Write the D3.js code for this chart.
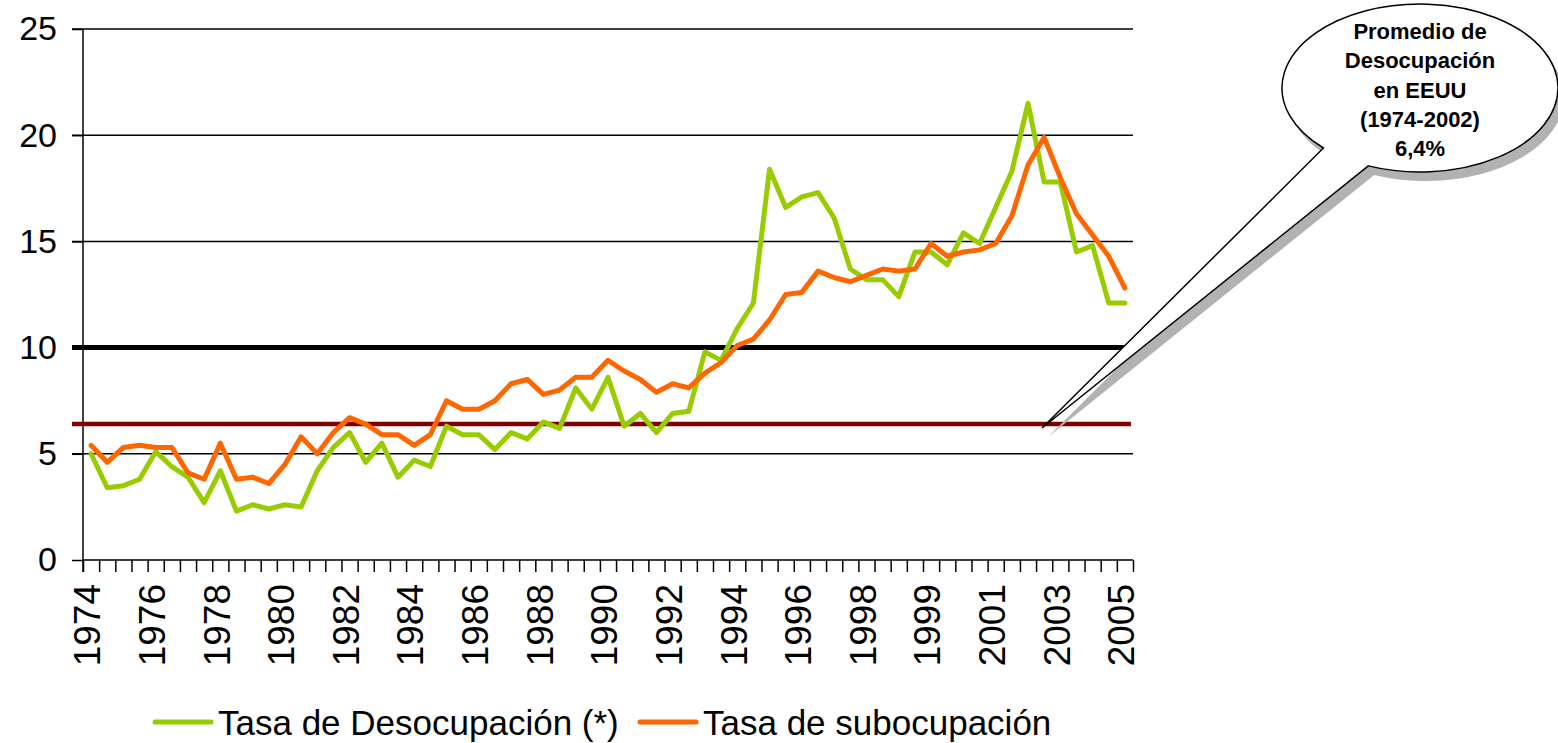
<!DOCTYPE html>
<html lang="es">

<head>
    <meta charset="UTF-8">
    <title>Desocupación y subocupación</title>
    <script src="https://unpkg.com/d3@7.8.5/dist/d3.min.js"></script>
    <style>
        * {
            margin: 0;
            padding: 0;
            box-sizing: border-box;
        }

        body {
            background: #fff;
            overflow: hidden;
        }

        svg {
            display: block;
            font-family: "Liberation Sans", Arial, sans-serif;
        }
    </style>
</head>

<body>
    <svg class="cc" width="1558" height="743"></svg>
    <script>
        // etiquetas del eje x (una cada 4 puntos)
        const tickYears = ['1974', '1976', '1978', '1980', '1982', '1984', '1986', '1988', '1990',
            '1992', '1994', '1996', '1998', '1999', '2001', '2003', '2005']

        // Tasa de Desocupación (*)
        const desocupacion = [
            5.0, 3.4, 3.5, 3.8, 5.1, 4.4, 3.9, 2.7, 4.2, 2.3, 2.6, 2.4, 2.6, 2.5, 4.2, 5.3,
            6.0, 4.6, 5.5, 3.9, 4.7, 4.4, 6.3, 5.9, 5.9, 5.2, 6.0, 5.7, 6.5, 6.2, 8.1, 7.1,
            8.6, 6.3, 6.9, 6.0, 6.9, 7.0, 9.8, 9.4, 10.9, 12.1, 18.4, 16.6, 17.1, 17.3, 16.1, 13.7,
            13.2, 13.2, 12.4, 14.5, 14.5, 13.9, 15.4, 14.9, 16.6, 18.3, 21.5, 17.8, 17.8, 14.5, 14.8, 12.1,
            12.1
        ]

        // Tasa de subocupación
        const subocupacion = [
            5.4, 4.6, 5.3, 5.4, 5.3, 5.3, 4.1, 3.8, 5.5, 3.8, 3.9, 3.6, 4.5, 5.8, 5.0, 6.0,
            6.7, 6.4, 5.9, 5.9, 5.4, 5.9, 7.5, 7.1, 7.1, 7.5, 8.3, 8.5, 7.8, 8.0, 8.6, 8.6,
            9.4, 8.9, 8.5, 7.9, 8.3, 8.1, 8.8, 9.3, 10.1, 10.4, 11.3, 12.5, 12.6, 13.6, 13.3, 13.1,
            13.4, 13.7, 13.6, 13.7, 14.9, 14.3, 14.5, 14.6, 14.9, 16.2, 18.6, 19.9, 18.0, 16.3, 15.3, 14.3,
            12.8
        ]

        const yTicks = [0, 5, 10, 15, 20, 25]
        const refLine = 10          // línea gruesa
        const promedioEEUU = 6.4    // promedio desocupación EEUU
        const calloutLines = ['Promedio de', 'Desocupación', 'en EEUU', '(1974-2002)', '6,4%']

        const series = [
            { name: 'Tasa de Desocupación (*)', values: desocupacion, color: '#99CC00' },
            { name: 'Tasa de subocupación', values: subocupacion, color: '#FF6600' }
        ]

        const n = desocupacion.length
        const plotL = 83, plotR = 1133, plotT = 29, plotB = 560

        const svg = d3.select('svg')

        const x = d3.scaleLinear().domain([0, n]).range([plotL, plotR])
        const y = d3.scaleLinear().domain([0, 25]).range([plotB, plotT])

        // grid
        svg.append('g')
            .selectAll('line')
            .data(yTicks.filter(v => v > 0))
            .join('line')
            .attr('x1', plotL - 11)
            .attr('x2', plotR)
            .attr('y1', d => y(d))
            .attr('y2', d => y(d))
            .attr('stroke', '#000')
            .attr('stroke-width', 1.5)

        // eje y
        const yAxis = svg.append('g')
            .attr('transform', `translate(${plotL},0)`)
            .call(d3.axisLeft(y).tickValues(yTicks).tickSize(11).tickPadding(15))
        yAxis.select('.domain').attr('stroke', '#000').attr('stroke-width', 1.5)
            .attr('d', `M0,${plotT}V${plotB + 12}`)
        yAxis.selectAll('.tick line').attr('stroke-width', 1.5)
        yAxis.selectAll('.tick text')
            .attr('font-size', 34)
            .attr('font-family', '"Liberation Sans", Arial, sans-serif')
            .attr('fill', '#000')

        // eje x
        const xAxis = svg.append('g')
            .attr('transform', `translate(0,${plotB})`)
            .call(d3.axisBottom(x).tickValues(d3.range(n + 1)).tickSize(12).tickFormat(''))
        xAxis.select('.domain').attr('stroke-width', 1.5).attr('d', `M${plotL},0H${plotR}`)
        xAxis.selectAll('.tick line').attr('stroke-width', 1.5)

        svg.append('g')
            .selectAll('text')
            .data(tickYears)
            .join('text')
            .attr('transform', (d, i) => `translate(${x(i * 4 + 0.5) - 4},${plotB + 24}) rotate(-90)`)
            .attr('dy', '0.36em')
            .attr('text-anchor', 'end')
            .attr('font-size', 37)
            .text(d => d)

        // líneas de referencia
        svg.append('line')
            .attr('x1', plotL - 11).attr('x2', plotR)
            .attr('y1', y(refLine)).attr('y2', y(refLine))
            .attr('stroke', '#000').attr('stroke-width', 5)

        svg.append('line')
            .attr('x1', plotL - 11).attr('x2', plotR - 2)
            .attr('y1', y(promedioEEUU)).attr('y2', y(promedioEEUU))
            .attr('stroke', '#800000').attr('stroke-width', 4.5)

        // series
        const line = d3.line()
            .x((d, i) => x(i + 0.5))
            .y(d => y(d))

        svg.append('g')
            .selectAll('path')
            .data(series)
            .join('path')
            .attr('d', d => line(d.values))
            .attr('fill', 'none')
            .attr('stroke', d => d.color)
            .attr('stroke-width', 5)
            .attr('stroke-linejoin', 'round')
            .attr('stroke-linecap', 'round')

        // globo
        const cx = 1420, cy = 88, rx = 138, ry = 84
        const angA = 134.4 * Math.PI / 180, angB = 112 * Math.PI / 180
        const A = [cx + rx * Math.cos(angA), cy + ry * Math.sin(angA)]
        const B = [cx + rx * Math.cos(angB), cy + ry * Math.sin(angB)]
        const tip = [1042, 428]
        const balloon = `M${B[0]},${B[1]}L${tip[0]},${tip[1]}L${A[0]},${A[1]}A${rx},${ry} 0 1 1 ${B[0]},${B[1]}Z`

        svg.append('path')
            .attr('d', balloon)
            .attr('transform', 'translate(6,9)')
            .attr('fill', '#b2b2b2')

        svg.append('path')
            .attr('d', balloon)
            .attr('fill', '#fff')
            .attr('stroke', '#000')
            .attr('stroke-width', 1.5)
            .attr('stroke-linejoin', 'miter')

        svg.append('g')
            .selectAll('text')
            .data(calloutLines)
            .join('text')
            .attr('x', cx)
            .attr('y', (d, i) => 39 + i * 29.25)
            .attr('text-anchor', 'middle')
            .attr('font-size', 22)
            .attr('font-weight', 'bold')
            .text(d => d)

        // leyenda
        const legendPos = [155, 640]
        const legend = svg.append('g')
            .selectAll('g')
            .data(series)
            .join('g')
            .attr('transform', (d, i) => `translate(${legendPos[i]},722)`)
        legend.append('line')
            .attr('x1', 0).attr('x2', 56)
            .attr('stroke', d => d.color)
            .attr('stroke-width', 5)
            .attr('stroke-linecap', 'round')
        legend.append('text')
            .attr('x', 63)
            .attr('dy', '0.36em')
            .attr('font-size', 35)
            .text(d => d.name)
    </script>
</body>

</html>
